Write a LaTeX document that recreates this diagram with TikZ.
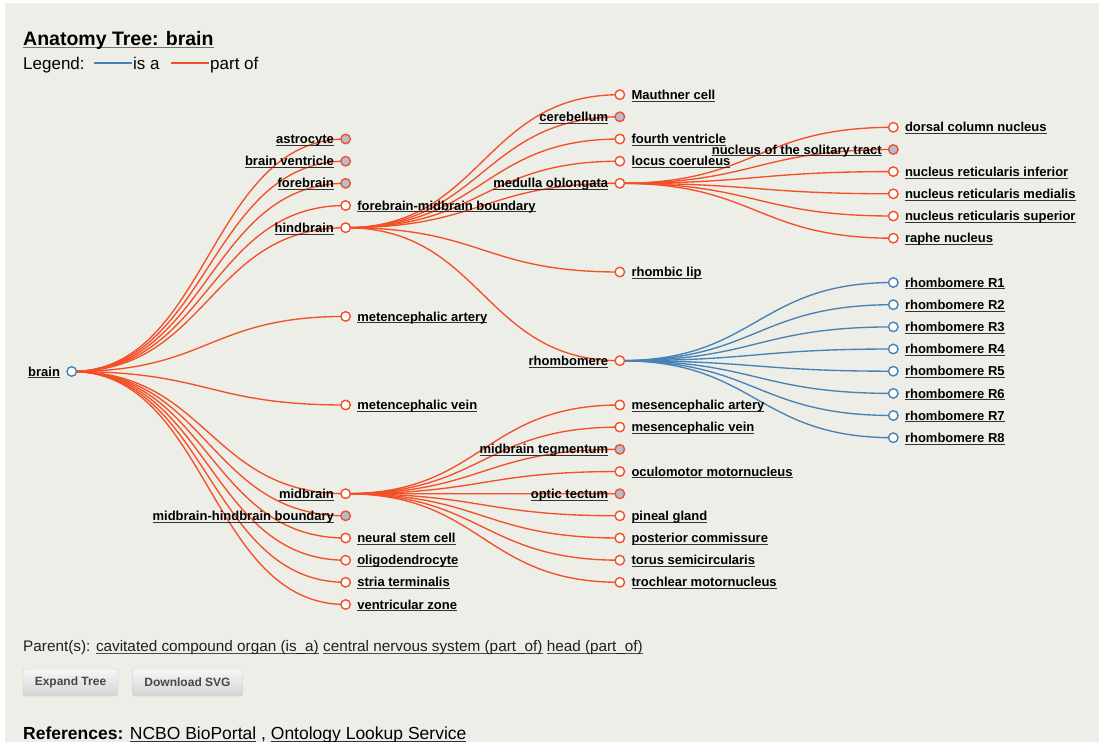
\documentclass[tikz,border=0pt]{standalone}
\usepackage{fontspec}
\setmainfont{Liberation Sans}
\usetikzlibrary{calc}
\definecolor{bg}{RGB}{238,238,233}
\definecolor{po}{RGB}{243,80,40}
\definecolor{isac}{RGB}{70,130,180}
\definecolor{coll}{RGB}{176,190,216}
\newcommand\ulx[2][black!80]{\setbox0\hbox{#2}\rlap{\color{#1}\rule[-2.2pt]{\wd0}{0.9pt}}\box0\relax}
\newcommand\lnk[3]{\draw[#1] (#2) .. controls ($(#2)!.5!(#2 -| #3)$) and ($(#3)!.5!(#3 -| #2)$) .. (#3);}
\tikzset{
  partof/.style={draw=po, line width=1.35pt},
  isrel/.style={draw=isac, line width=1.35pt},
  dot/.style={circle, draw=po, line width=1.4pt, fill=white, minimum size=9.5pt, inner sep=0pt},
  dotc/.style={dot, fill=coll},
  dotb/.style={dot, draw=isac},
  lbl/.style={font=\fontsize{13}{15}\selectfont\bfseries, inner sep=0pt, text=black},
  btn/.style={draw=black!22, rounded corners=2.5pt, top color=black!3, bottom color=black!17,
     font=\fontsize{12}{14}\selectfont\bfseries, text=black!72, minimum height=27pt, inner sep=0pt},
}
\newcommand\lt[2]{\node[lbl, anchor=base east] (#1-t) at ($(#1)+(-11.5,4.6)$) {\ulx{#2}};}
\newcommand\rt[2]{\node[lbl, anchor=base west] (#1-t) at ($(#1)+(11.5,4.6)$) {\ulx{#2}};}
\begin{document}
\begin{tikzpicture}[x=1pt,y=-1pt]
\useasboundingbox (0,0) rectangle (1101,742);
\fill[white] (0,0) rectangle (1101,742);
\fill[bg] (5,3) rectangle (1099,742);

% title and legend
\node[anchor=base west, inner sep=0pt, font=\fontsize{19.5}{22}\selectfont\bfseries] (title) at (23,45.5) {\ulx[black!55]{Anatomy Tree: brain}};
\node[anchor=base west, inner sep=0pt, font=\fontsize{17}{20}\selectfont] (leg) at (23,69) {Legend:};
\coordinate (lb1) at (94,63.2); \coordinate (lb2) at (132,63.2);
\coordinate (lr1) at (171,63.2); \coordinate (lr2) at (209,63.2);
\draw[isrel, line width=1.7pt] (lb1) -- (lb2);
\node[anchor=base west, inner sep=0pt, font=\fontsize{17}{20}\selectfont] (legisa) at (133,69) {is a};
\draw[partof, line width=1.7pt] (lr1) -- (lr2);
\node[anchor=base west, inner sep=0pt, font=\fontsize{17}{20}\selectfont] (legpo) at (210,69) {part of};

% coordinates
\coordinate (brain) at (71.7,371.5);
\foreach \n/\y in {ast/139.0,bv/161.2,fb/183.3,fmb/205.5,hb/227.7,ma/316.4,mv/405.0,mb/493.7,mhb/515.8,nsc/538.0,oli/560.2,st/582.3,vz/604.5}
  {\coordinate (\n) at (345.6,\y);}
\foreach \n/\y in {mau/94.7,cer/116.8,fv/139.0,lc/161.2,mo/183.3,rl/272.0,rh/360.7,mea/405.0,mev/427.1,mt/449.3,om/471.5,ot/493.75,pg/515.8,pc/538.0,ts/560.2,tm/582.3}
  {\coordinate (\n) at (619.8,\y);}
\foreach \n/\y in {dcn/127.3,nst/149.5,nri/171.6,nrm/193.8,nrs/216.0,rn/238.2,ra/282.5,rb/304.7,rc/326.9,rd/349.0,re/371.2,rf/393.4,rg/415.5,rh8/437.7}
  {\coordinate (\n) at (893.3,\y);}

% links
\foreach \c in {ast,bv,fb,fmb,hb,ma,mv,mb,mhb,nsc,oli,st,vz} {\lnk{partof}{brain}{\c}}
\foreach \c in {mau,cer,fv,lc,mo,rl,rh} {\lnk{partof}{hb}{\c}}
\foreach \c in {mea,mev,mt,om,ot,pg,pc,ts,tm} {\lnk{partof}{mb}{\c}}
\foreach \c in {dcn,nst,nri,nrm,nrs,rn} {\lnk{partof}{mo}{\c}}
\foreach \c in {ra,rb,rc,rd,re,rf,rg,rh8} {\lnk{isrel}{rh}{\c}}

% circles
\node[dotb] (brain-c) at (brain) {};
\foreach \n in {fmb,hb,ma,mv,mb,nsc,oli,st,vz,mau,fv,lc,mo,rl,rh,mea,mev,om,pg,pc,ts,tm,dcn,nri,nrm,nrs,rn}
  {\node[dot] (\n-c) at (\n) {};}
\foreach \n in {ast,bv,fb,mhb,cer,mt,ot,nst}
  {\node[dotc] (\n-c) at (\n) {};}
\foreach \n in {ra,rb,rc,rd,re,rf,rg,rh8}
  {\node[dotb] (\n-c) at (\n) {};}

% labels
\lt{brain}{brain}
\lt{ast}{astrocyte}
\lt{bv}{brain ventricle}
\lt{fb}{forebrain}
\rt{fmb}{forebrain-midbrain boundary}
\lt{hb}{hindbrain}
\rt{ma}{metencephalic artery}
\rt{mv}{metencephalic vein}
\lt{mb}{midbrain}
\lt{mhb}{midbrain-hindbrain boundary}
\rt{nsc}{neural stem cell}
\rt{oli}{oligodendrocyte}
\rt{st}{stria terminalis}
\rt{vz}{ventricular zone}
\rt{mau}{Mauthner cell}
\lt{cer}{cerebellum}
\rt{fv}{fourth ventricle}
\rt{lc}{locus coeruleus}
\lt{mo}{medulla oblongata}
\rt{rl}{rhombic lip}
\lt{rh}{rhombomere}
\rt{mea}{mesencephalic artery}
\rt{mev}{mesencephalic vein}
\lt{mt}{midbrain tegmentum}
\rt{om}{oculomotor motornucleus}
\lt{ot}{optic tectum}
\rt{pg}{pineal gland}
\rt{pc}{posterior commissure}
\rt{ts}{torus semicircularis}
\rt{tm}{trochlear motornucleus}
\rt{dcn}{dorsal column nucleus}
\lt{nst}{nucleus of the solitary tract}
\rt{nri}{nucleus reticularis inferior}
\rt{nrm}{nucleus reticularis medialis}
\rt{nrs}{nucleus reticularis superior}
\rt{rn}{raphe nucleus}
\rt{ra}{rhombomere R1}
\rt{rb}{rhombomere R2}
\rt{rc}{rhombomere R3}
\rt{rd}{rhombomere R4}
\rt{re}{rhombomere R5}
\rt{rf}{rhombomere R6}
\rt{rg}{rhombomere R7}
\rt{rh8}{rhombomere R8}

% bottom
\node[anchor=base west, inner sep=0pt, font=\fontsize{15.3}{18}\selectfont, text=black!88] (par) at (23,651.5)
  {Parent(s): \ulx[black!70]{cavitated compound organ (is\_a)} \ulx[black!70]{central nervous system (part\_of)} \ulx[black!70]{head (part\_of)}};
\node[btn, minimum width=95pt] (expand) at (70.5,682.5) {Expand Tree};
\node[btn, minimum width=110pt] (download) at (187.5,682.5) {Download SVG};
\node[anchor=base west, inner sep=0pt, font=\fontsize{17.5}{20}\selectfont] (refs) at (23,739.5)
  {\textbf{References:} \ulx{NCBO BioPortal} , \ulx{Ontology Lookup Service}};
\end{tikzpicture}
\end{document}
